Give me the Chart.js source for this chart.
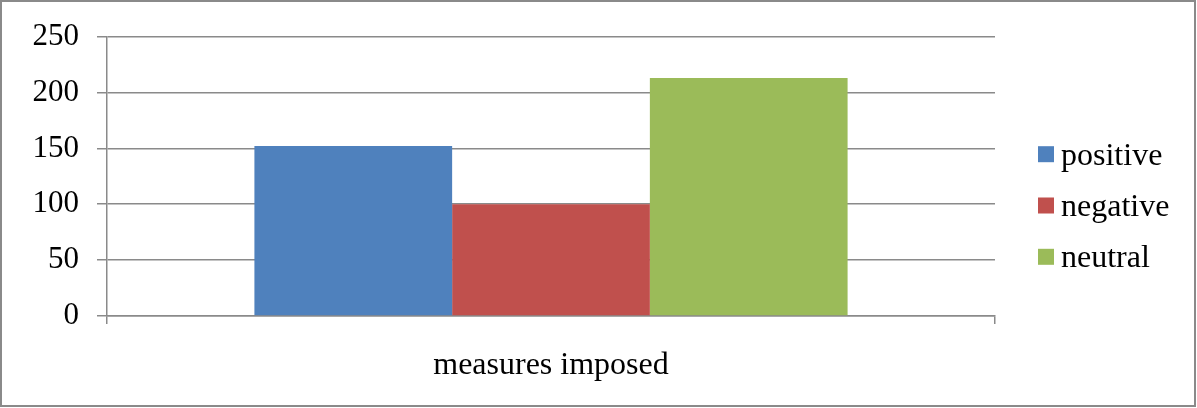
<!DOCTYPE html>
<html>
<head>
<meta charset="utf-8">
<script src="https://cdn.jsdelivr.net/npm/chart.js@4.4.1/dist/chart.umd.min.js"></script>
<style>
  html, body { margin: 0; padding: 0; background: #fff; overflow: hidden; }
  canvas { display: block; }
</style>
</head>
<body>
<canvas id="c" width="1197" height="408"></canvas>
<script>
// Responses grouped by sentiment
const categories = ['measures imposed'];
const seriesNames = ['positive', 'negative', 'neutral'];
const positiveValues = [152];
const negativeValues = [100];
const neutralValues = [213];
const yTickValues = [0, 50, 100, 150, 200, 250];

const seriesColors = ['#4F81BD', '#C0504D', '#9BBB59'];
const axisGray = '#8a8a8a';
const serifFamily = '"Liberation Serif", "Times New Roman", serif';
const tickFont = { family: serifFamily, size: 31 };
const labelFont = { family: serifFamily, size: 32 };

// Legend drawn to the right of the plot, one square + label per series
const sideLegend = {
  id: 'sideLegend',
  afterDraw(chart) {
    const ctx = chart.ctx;
    const boxX = chart.chartArea.right + 43;
    const box = 16;
    const midY = 205.5;
    const step = 51.3;
    ctx.save();
    ctx.font = labelFont.size + 'px ' + serifFamily;
    ctx.textBaseline = 'alphabetic';
    ctx.textAlign = 'left';
    chart.data.datasets.forEach((ds, i) => {
      const cy = midY + (i - 1) * step;
      ctx.fillStyle = ds.backgroundColor;
      ctx.fillRect(boxX, cy - box / 2, box, box);
      ctx.fillStyle = '#000';
      ctx.fillText(ds.label, boxX + box + 7, cy + 10.5);
    });
    ctx.restore();
  }
};

// Thin gray frame round the whole figure
const frame = {
  id: 'frame',
  beforeDraw(chart) {
    const ctx = chart.ctx;
    ctx.save();
    ctx.fillStyle = '#fff';
    ctx.fillRect(0, 0, chart.width, chart.height);
    ctx.restore();
  },
  afterDraw(chart) {
    const ctx = chart.ctx;
    ctx.save();
    ctx.strokeStyle = '#8a8a8a';
    ctx.lineWidth = 2;
    ctx.strokeRect(1, 1, chart.width - 3, chart.height - 3);
    ctx.restore();
  }
};

const valueSets = [positiveValues, negativeValues, neutralValues];

new Chart(document.getElementById('c'), {
  type: 'bar',
  data: {
    labels: categories,
    datasets: seriesNames.map((name, i) => ({
      label: name,
      data: valueSets[i],
      backgroundColor: seriesColors[i],
      borderWidth: 0,
      categoryPercentage: 0.668,
      barPercentage: 1.0
    }))
  },
  options: {
    responsive: false,
    animation: false,
    devicePixelRatio: 1,
    layout: { padding: { left: 0, right: 202, top: 34, bottom: 0 } },
    plugins: {
      legend: { display: false },
      tooltip: { enabled: false }
    },
    scales: {
      x: {
        afterFit(scale) { scale.height = 92; },
        grid: {
          offset: true,
          drawOnChartArea: false,
          drawTicks: true,
          tickLength: 8,
          color: axisGray,
          lineWidth: 1.5
        },
        border: { display: true, color: axisGray, width: 1.5 },
        ticks: { font: labelFont, color: '#000', padding: 22 }
      },
      y: {
        min: 0,
        max: 250,
        afterFit(scale) { scale.width = 107; },
        afterBuildTicks(scale) { scale.ticks = yTickValues.map(v => ({ value: v })); },
        grid: {
          drawTicks: true,
          tickLength: 10,
          color: axisGray,
          lineWidth: 1.5
        },
        border: { display: true, color: axisGray, width: 1.5 },
        ticks: { font: tickFont, color: '#000', padding: 18 }
      }
    }
  },
  plugins: [frame, sideLegend]
});
</script>
</body>
</html>
